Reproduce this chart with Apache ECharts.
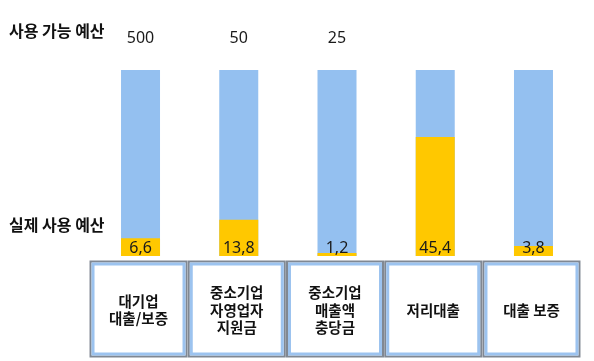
<!DOCTYPE html>
<html>
<head>
<meta charset="utf-8">
<script src="https://cdn.jsdelivr.net/npm/echarts@6/dist/echarts.min.js"></script>
<style>
html,body{margin:0;padding:0;background:#fff;}
#c{width:594px;height:361px;}
</style>
</head>
<body>
<div id="c"></div>
<script>
// Data
var categories = ['대기업\n대출/보증', '중소기업\n자영업자\n지원금', '중소기업\n매출액\n충당금', '저리대출', '대출 보증'];
var budgetLabels = ['500', '50', '25', '', ''];      // 사용 가능 예산
var usedLabels = ['6,6', '13,8', '1,2', '45,4', '3,8']; // 실제 사용 예산
var availableShare = [100, 100, 100, 100, 100];      // full bar (budget = 100%)
var usedShare = [9.5, 19.5, 1.6, 64, 5.4];           // drawn share of the bar
var rowTitles = ['사용 가능 예산', '실제 사용 예산'];

var FONT = '"Noto Sans CJK KR", "Noto Sans", sans-serif';
var NUMFONT = '"Noto Sans", "Open Sans", sans-serif';

var chart = echarts.init(document.getElementById('c'), null, {renderer: 'canvas'});

var option = {
  animation: false,
  backgroundColor: '#ffffff',
  grid: {left: 91.4, width: 491.2, top: 70, height: 186, containLabel: false},
  xAxis: {
    type: 'category', data: categories,
    axisLine: {show: false}, axisTick: {show: false}, axisLabel: {show: false}, splitLine: {show: false}
  },
  yAxis: {
    type: 'value', min: 0, max: 100,
    show: false
  },
  series: [
    {
      type: 'bar', data: availableShare, barWidth: 39, barGap: '-100%',
      itemStyle: {color: '#94c0f0'},
      label: {
        show: true, position: 'top', distance: 24,
        formatter: function (p) { return budgetLabels[p.dataIndex]; },
        color: '#1a1a1a', fontSize: 16, fontFamily: NUMFONT
      }
    },
    {
      type: 'bar', data: usedShare, barWidth: 39, barGap: '-100%',
      itemStyle: {color: '#ffc800'},
      label: {
        show: true, position: 'insideBottom', distance: 0,
        formatter: function (p) { return usedLabels[p.dataIndex]; },
        color: '#1a1a1a', fontSize: 16, fontFamily: NUMFONT
      }
    }
  ]
};
chart.setOption(option);

// category boxes below the bars, positioned from the category axis
var graphics = [];
rowTitles.forEach(function (t, i) {
  graphics.push({
    type: 'text', left: 9, top: i === 0 ? 23 : 217,
    style: {text: t, font: 'bold 16px ' + FONT, fill: '#111'}
  });
});
categories.forEach(function (cat, i) {
  var cx = chart.convertToPixel({xAxisIndex: 0}, i) - 2;
  var w = 96, h = 95, top = 261.5;
  graphics.push({
    type: 'rect', shape: {x: cx - w / 2, y: top, width: w, height: h},
    style: {fill: '#ffffff', stroke: '#808893', lineWidth: 2}
  });
  graphics.push({
    type: 'rect', shape: {x: cx - w / 2 + 2.5, y: top + 2.5, width: w - 5, height: h - 5},
    style: {fill: '#ffffff', stroke: '#9cc3ef', lineWidth: 3}
  });
  graphics.push({
    type: 'text', x: cx, y: 310,
    style: {text: cat, font: 'bold 14.5px ' + FONT, fill: '#111', align: 'center', verticalAlign: 'middle', lineHeight: 17.5}
  });
});
chart.setOption({graphic: graphics});
</script>
</body>
</html>
